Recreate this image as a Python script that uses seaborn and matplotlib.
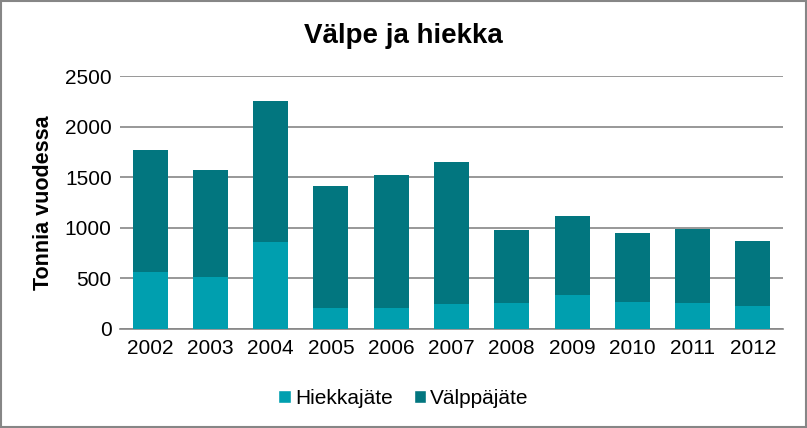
import matplotlib
matplotlib.use("Agg")
import matplotlib.pyplot as plt
import seaborn as sns
import pandas as pd
from matplotlib.patches import Patch, Rectangle

years = ["2002", "2003", "2004", "2005", "2006", "2007", "2008", "2009", "2010", "2011", "2012"]
hiekkajate = [564, 514, 861, 208, 208, 247, 257, 336, 267, 257, 228]
valppajate = [1207, 1059, 1395, 1207, 1316, 1405, 723, 782, 683, 732, 643]
yticks = [0, 500, 1000, 1500, 2000, 2500]

c_hiekka = "#009FAF"
c_valppa = "#02767F"

sns.set_theme(style="white")
plt.rcParams["font.family"] = ["Liberation Sans", "DejaVu Sans"]
plt.rcParams["text.color"] = "black"
plt.rcParams["axes.labelcolor"] = "black"

df = pd.DataFrame({"year": years, "Hiekkajäte": hiekkajate, "Välppäjäte": valppajate})
df["total"] = df["Hiekkajäte"] + df["Välppäjäte"]

fig = plt.figure(figsize=(8.07, 4.28), dpi=100)
ax = fig.add_axes([120 / 807, 1 - 329 / 428, 663 / 807, 253 / 428])

sns.barplot(data=df, x="year", y="total", color=c_valppa, width=0.58, ax=ax,
            saturation=1, zorder=3, edgecolor="none")
sns.barplot(data=df, x="year", y="Hiekkajäte", color=c_hiekka, width=0.58, ax=ax,
            saturation=1, zorder=4, edgecolor="none")

ax.set_ylim(0, 2500)
ax.set_xlim(-0.5, len(years) - 0.5)
ax.set_yticks(yticks)
ax.set_yticklabels([str(v) for v in yticks], fontsize=15, color="#000000")
ax.tick_params(axis="x", labelsize=15, colors="#000000", length=0, pad=7)
ax.tick_params(axis="y", length=0, pad=6)
ax.yaxis.grid(True, color="#868686", linewidth=1.2, zorder=0)
ax.set_axisbelow(True)
for s in ["top", "right", "left"]:
    ax.spines[s].set_visible(False)
ax.spines["bottom"].set_color("#868686")
ax.spines["bottom"].set_linewidth(1.2)
ax.set_xlabel("")
ax.set_ylabel("Tonnia vuodessa", fontsize=15.5, fontweight="bold", labelpad=8)

fig.text(0.5, 1 - 36 / 428, "Välpe ja hiekka", ha="center", va="center",
         fontsize=20, fontweight="bold")

handles = [Patch(facecolor=c_hiekka, label="Hiekkajäte"),
           Patch(facecolor=c_valppa, label="Välppäjäte")]
fig.legend(handles=handles, loc="center", bbox_to_anchor=(0.5, 1 - 398 / 428),
           ncol=2, frameon=False, fontsize=15, handlelength=0.6, handleheight=0.6,
           handletextpad=0.2, columnspacing=1.0)

fig.patches.append(Rectangle((1 / 807, 1 / 428), 1 - 2 / 807, 1 - 2 / 428,
                             transform=fig.transFigure, fill=False,
                             edgecolor="#868686", linewidth=1.5))

fig.savefig("out.png", dpi=100)
